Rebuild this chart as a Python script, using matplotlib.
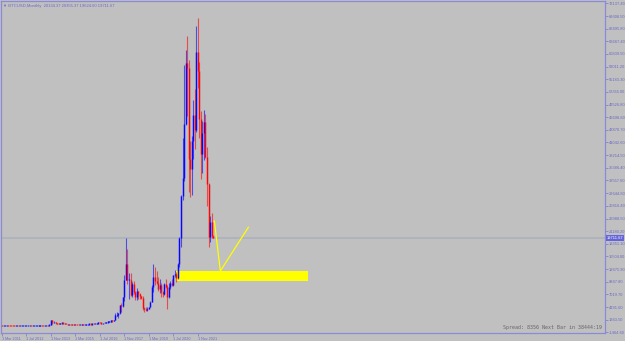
import matplotlib
matplotlib.use("Agg")
import matplotlib.pyplot as plt
from matplotlib.patches import Rectangle
import numpy as np

# Monthly BTCUSD bars, Mar 2011 .. Sep 2022
opens = [0.86, 0.78, 3.5, 8.7, 16.1, 13.4, 8.2, 5.1, 3.25, 2.97,
         4.72, 5.5, 4.9, 4.9, 5.0, 5.2, 6.7, 9.4, 10.2, 12.4, 11.2, 12.6,
         13.5, 20.4, 33.4, 93, 139, 129, 97, 106, 135, 133, 204, 1205,
         757, 800, 549, 450, 447, 630, 640, 586, 480, 387, 338, 378,
         320, 218, 254, 244, 236, 230, 263, 284, 230, 236, 314, 377,
         430, 369, 437, 416, 448, 531, 673, 624, 575, 609, 699, 742,
         963, 970, 1190, 1080, 1348, 2300, 2480, 2875, 4700, 4340, 6470, 10230,
         13860, 10265, 10330, 6926, 9245, 7495, 6390, 7730, 7025, 6625, 6317, 4017,
         3742, 3457, 3854, 4105, 5350, 8574, 10818, 10085, 9630, 8293, 9199, 7569,
         7193, 9350, 8600, 6438, 8658, 9461, 9138, 11351, 11655, 10779, 13805, 19700,
         28990, 33100, 45150, 58800, 57750, 37330, 35040, 41460, 47100, 43800, 61300, 57000,
         46300, 38500, 43200, 45500, 37700, 31800, 19950, 23300, 20134.37]
highs = [0.95, 3.9, 8.9, 31.9, 16.7, 13.9, 8.9, 5.2, 3.6, 4.8,
         7.2, 6.2, 5.4, 5.2, 5.2, 6.7, 9.6, 16.4, 12.8, 12.9, 12.8, 13.8,
         20.4, 33.4, 95, 266, 140, 130, 111, 135, 148, 215, 1242, 1237,
         1019, 850, 720, 550, 637, 680, 655, 600, 500, 420, 450, 383,
         320, 268, 300, 260, 247, 268, 315, 285, 246, 330, 502, 468,
         462, 448, 439, 468, 550, 780, 705, 625, 620, 720, 755, 975,
         1150, 1200, 1300, 1350, 2790, 3000, 2930, 4740, 5000, 6470, 11400, 19666,
         17250, 11790, 11700, 9760, 10000, 7760, 8490, 7760, 7400, 6750, 6600, 4250,
         4100, 4200, 4290, 5640, 9100, 13880, 13150, 12330, 10900, 10370, 9500, 7750,
         9580, 10500, 9190, 9470, 10070, 10380, 11450, 12470, 12070, 14100, 19900, 29300,
         41950, 58350, 61800, 64850, 59600, 41300, 42400, 50500, 52900, 67000, 69000, 59100,
         48000, 45800, 48200, 47450, 40000, 31900, 24650, 25200, 20355.37]
lows = [0.72, 0.67, 3.0, 8.7, 12.6, 6.6, 4.7, 2.0, 2.0, 2.7,
        4.6, 4.3, 4.6, 4.7, 4.9, 5.2, 6.5, 7.0, 10.1, 9.8, 10.5, 12.6,
        13.3, 19.1, 33, 50, 79, 88, 65, 101, 118, 104, 197, 455,
        738, 410, 440, 340, 420, 550, 565, 440, 360, 275, 320, 300,
        152, 212, 235, 215, 225, 218, 253, 198, 225, 236, 300, 343,
        355, 365, 390, 412, 435, 525, 600, 465, 567, 605, 680, 740,
        750, 930, 900, 1060, 1340, 2080, 1830, 2670, 2980, 4130, 5600, 10230,
        9400, 5970, 6600, 6430, 7000, 5780, 5850, 5880, 6100, 6100, 3550, 3150,
        3350, 3390, 3730, 4100, 5330, 7450, 9050, 9320, 7750, 7300, 6520, 6430,
        6870, 8450, 3850, 6150, 8120, 8940, 8980, 10960, 9880, 10420, 13200, 17600,
        28100, 32300, 45000, 47000, 30000, 28800, 29300, 37400, 39600, 43300, 53250, 42000,
        32950, 34300, 37200, 37600, 26700, 17600, 18800, 19550, 19624.60]
closes = [0.78, 3.5, 8.7, 16.1, 13.4, 8.2, 5.1, 3.25, 2.97, 4.72,
          5.5, 4.9, 4.9, 5.0, 5.2, 6.7, 9.4, 10.2, 12.4, 11.2, 12.6, 13.5,
          20.4, 33.4, 93, 139, 129, 97, 106, 135, 133, 204, 1205, 757,
          800, 549, 450, 447, 630, 640, 586, 480, 387, 338, 378, 320,
          218, 254, 244, 236, 230, 263, 284, 230, 236, 314, 377, 430,
          369, 437, 416, 448, 531, 673, 624, 575, 609, 699, 742, 963,
          970, 1190, 1080, 1348, 2300, 2480, 2875, 4700, 4340, 6470, 10230, 13860,
          10265, 10330, 6926, 9245, 7495, 6390, 7730, 7025, 6625, 6317, 4017, 3742,
          3457, 3854, 4105, 5350, 8574, 10818, 10085, 9630, 8293, 9199, 7569, 7193,
          9350, 8600, 6438, 8658, 9461, 9138, 11351, 11655, 10779, 13805, 19700, 28990,
          33100, 45150, 58800, 57750, 37330, 35040, 41460, 47100, 43800, 61300, 57000, 46300,
          38500, 43200, 45500, 37700, 31800, 19950, 23300, 20050, 19711.67]

date_label_idx = [0, 16, 32, 48, 64, 80, 96, 112, 128]
date_labels = ["1 Mar 2011", "1 Jul 2012", "1 Nov 2013", "1 Mar 2015", "1 Jul 2016",
               "1 Nov 2017", "1 Mar 2019", "1 Jul 2020", "1 Nov 2021"]

price_labels = [72137.40, 69308.50, 66495.80, 63667.40, 60839.50, 58011.20, 55183.30,
                52355.00, 49526.80, 46698.80, 43870.70, 41042.60, 38214.50, 35386.40,
                32557.60, 29644.80, 26816.40, 23988.50, 21180.20, 18351.10, 15504.00,
                12675.90, 9847.80, 7019.70, 4191.60, 1363.50, -1464.60]

current_price = closes[-1]

zone_x = [113.7, 200.2]
zone_price = [10086, 12190]
path_x = [138.8, 142.7, 161.0]
path_price = [23450, 12257, 22040]

BG = "#C0C0C0"
AXC = "#8A8AD8"
TXC = "#6A6AC8"
NARROW = ["Liberation Sans Narrow", "Liberation Sans", "DejaVu Sans"]

fig = plt.figure(figsize=(6.25, 3.41), dpi=100)
fig.patch.set_facecolor(BG)
W, H = 625.0, 341.0
ax = fig.add_axes([1 / W, 8.3 / H, 604 / W, 332.2 / H])
ax.set_facecolor(BG)

n = len(closes)
idx = np.arange(n)
o = np.array(opens); h = np.array(highs); l = np.array(lows); c = np.array(closes)
up = c >= o
cols = np.where(up, "#0000FF", "#FF0000")

# zone rectangle (background object)
ax.add_patch(Rectangle((zone_x[0], zone_price[0]), zone_x[1] - zone_x[0],
                       zone_price[1] - zone_price[0], facecolor="#FFFF00",
                       edgecolor="none", zorder=1))

# bid line
ax.axhline(current_price, color="#AEB3BC", linewidth=1.3, zorder=1.5)

# candles: thin wick + body (body at least ~1px tall so flat bars remain visible)
min_h = 260.0
bot = np.minimum(o, c)
top = np.maximum(o, c)
mid = (bot + top) / 2
bot2 = np.where(top - bot < min_h, mid - min_h / 2, bot)
top2 = np.where(top - bot < min_h, mid + min_h / 2, top)

ax.vlines(idx, l, h, colors=cols, linewidth=0.8, alpha=0.6, zorder=2)
ax.vlines(idx, bot2, top2, colors=cols, linewidth=1.05, alpha=0.9, zorder=3)

ax.plot(path_x, path_price, color="#FFFF00", linewidth=0.9, zorder=4)

ax.set_xlim(-0.654, 394.1)
ax.set_ylim(-1554, 72808)

for s in ax.spines.values():
    s.set_color(AXC)
    s.set_linewidth(0.9)

ax.yaxis.tick_right()
ax.set_yticks(price_labels)
ax.set_yticklabels([f"{v:.2f}" for v in price_labels])
ax.tick_params(axis="y", direction="out", length=2, width=0.7, color=AXC,
               labelcolor=TXC, labelsize=2.9, pad=1)
for t in ax.get_yticklabels():
    t.set_family(NARROW)

ax.set_xticks(date_label_idx)
ax.set_xticklabels(date_labels)
ax.tick_params(axis="x", direction="out", length=2.5, width=0.7, color=AXC,
               labelcolor=TXC, labelsize=2.7, pad=0.8)
for t in ax.get_xticklabels():
    t.set_family(NARROW)
    t.set_ha("left")

# current price tag
ax.text(1.0025, current_price, f"{current_price:.2f}", transform=ax.get_yaxis_transform(),
        ha="left", va="center", fontsize=2.9, color="#FFFFFF", family=NARROW,
        bbox=dict(boxstyle="square,pad=0.25", facecolor="#6464DC", edgecolor="none"),
        clip_on=False, zorder=10)

# header
ax.text(0.003, 0.988,
        f"\u25BC BTCUSD,Monthly  {opens[-1]:.2f} {highs[-1]:.2f} {lows[-1]:.2f} {closes[-1]:.2f}",
        transform=ax.transAxes, ha="left", va="top", fontsize=3.0, color=TXC,
        family=NARROW)

# spread info
ax.text(0.9955, 0.008, "Spread: 8356 Next Bar in 38444:19", transform=ax.transAxes,
        ha="right", va="bottom", fontsize=3.6, color="#666666", family="DejaVu Sans Mono")

fig.savefig("out.png", dpi=100, facecolor=BG)
